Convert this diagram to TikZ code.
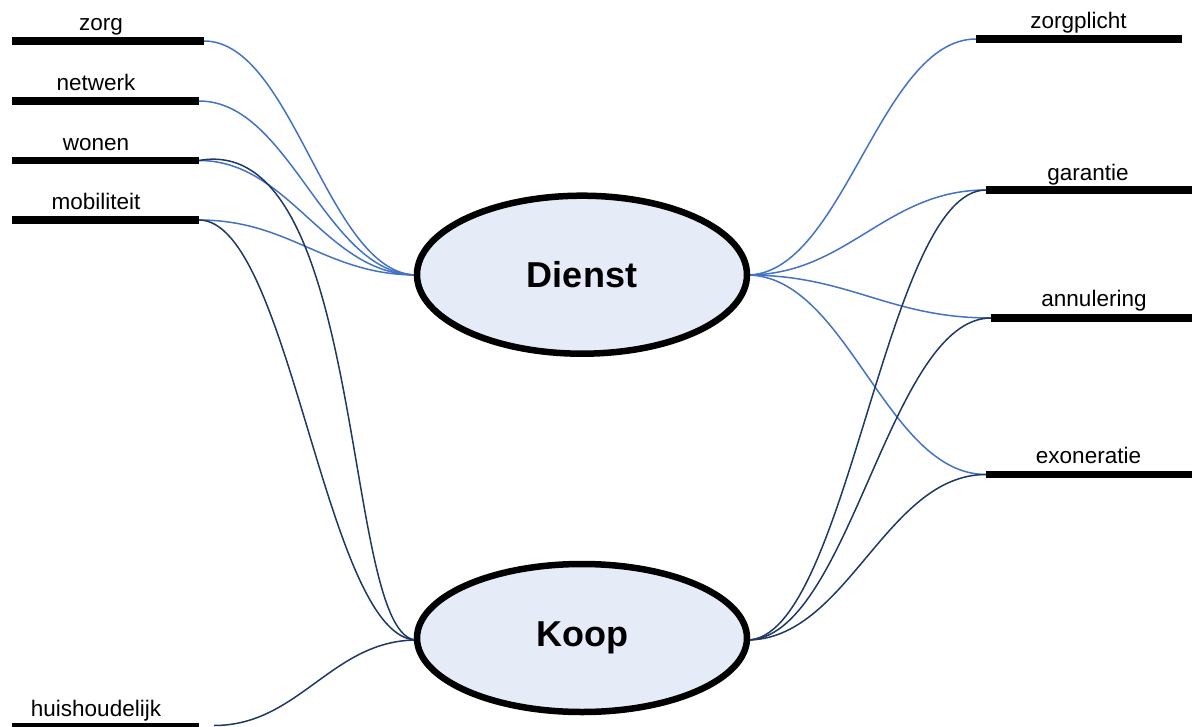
\documentclass[tikz,border=0pt]{standalone}
\usepackage{fontspec}
\setmainfont{Liberation Sans}
\usetikzlibrary{shapes.geometric,calc}

\definecolor{linkblue}{RGB}{68,114,196}
\definecolor{linknavy}{RGB}{31,56,100}
\definecolor{ovalfill}{RGB}{230,236,247}

\tikzset{
  bar/.style={line width=7.3pt},
  termlabel/.style={anchor=base,inner sep=0pt,font=\fontsize{22.5}{27}\selectfont},
  oval/.style={ellipse,draw=black,line width=6.5pt,fill=ovalfill,inner sep=0pt,outer sep=0pt,
    font=\fontsize{36}{42}\selectfont\bfseries},
  bluelink/.style={draw=linkblue,line width=1.5pt},
  navylink/.style={draw=linknavy,line width=1.5pt},
}

% S-shaped connector, horizontal at both ends
\newcommand\curvelink[3]{%
  \draw[#1] let \p1=(#2), \p2=(#3), \n1={0.42*(\x2-\x1)} in
    (\p1) .. controls ({\x1+\n1},\y1) and ({\x2-\n1},\y2) .. (\p2);}

\begin{document}
\begin{tikzpicture}[x=1pt,y=1pt]
\useasboundingbox (0,0) rectangle (1192,-726);

% left terms
\draw[bar] (12,-41) coordinate (zorgL) -- (204,-41) coordinate (zorg);
\node[termlabel] (zorgT) at (101,-30) {zorg};
\draw[bar] (12,-101) coordinate (netwerkL) -- (199,-101) coordinate (netwerk);
\node[termlabel] (netwerkT) at (96,-90) {netwerk};
\draw[bar] (12,-160.5) coordinate (wonenL) -- (199,-160.5) coordinate (wonen);
\node[termlabel] (wonenT) at (96,-150) {wonen};
\draw[bar] (12,-220) coordinate (mobiliteitL) -- (199,-220) coordinate (mobiliteit);
\node[termlabel] (mobiliteitT) at (96,-209.5) {mobiliteit};
\draw[bar] (12,-727) coordinate (huisL) -- (199,-727) coordinate (huis);
\coordinate (huisEnd) at (214,-725.5);
\node[termlabel] (huisT) at (96,-716.5) {huishoudelijk};

% right terms
\draw[bar] (976,-39) coordinate (zorgplicht) -- (1182,-39) coordinate (zorgplichtR);
\node[termlabel] (zorgplichtT) at (1078.5,-28.3) {zorgplicht};
\draw[bar] (986,-190) coordinate (garantie) -- (1192,-190) coordinate (garantieR);
\node[termlabel] (garantieT) at (1088,-180) {garantie};
\draw[bar] (991,-318) coordinate (annulering) -- (1192,-318) coordinate (annuleringR);
\node[termlabel] (annuleringT) at (1094,-306.7) {annulering};
\draw[bar] (986,-474.5) coordinate (exoneratie) -- (1192,-474.5) coordinate (exoneratieR);
\node[termlabel] (exoneratieT) at (1088.5,-463) {exoneratie};

% attachment points on the two ovals
\coordinate (dW) at (417,-275);
\coordinate (dE) at (747,-275);
\coordinate (kW) at (417,-640);
\coordinate (kE) at (747,-640);

% connectors to Dienst
\curvelink{bluelink}{zorg}{dW}
\curvelink{bluelink}{netwerk}{dW}
\curvelink{bluelink}{wonen}{dW}
\curvelink{bluelink}{mobiliteit}{dW}
\curvelink{bluelink}{dE}{zorgplicht}
\curvelink{bluelink}{dE}{garantie}
\curvelink{bluelink}{dE}{annulering}
\curvelink{bluelink}{dE}{exoneratie}

% connectors to Koop
\draw[navylink] (wonen) .. controls (369,-130) and (341,-640) .. (kW);
\curvelink{navylink}{mobiliteit}{kW}
\curvelink{navylink}{huisEnd}{kW}
\curvelink{navylink}{kE}{garantie}
\curvelink{navylink}{kE}{annulering}
\curvelink{navylink}{kE}{exoneratie}

% the two main concepts
\node[oval,minimum width=330pt,minimum height=158pt] (dienst) at (582,-274.7) {Dienst};
\node[oval,minimum width=330pt,minimum height=148pt] (koop) at (582,-638) {Koop};
\end{tikzpicture}
\end{document}
